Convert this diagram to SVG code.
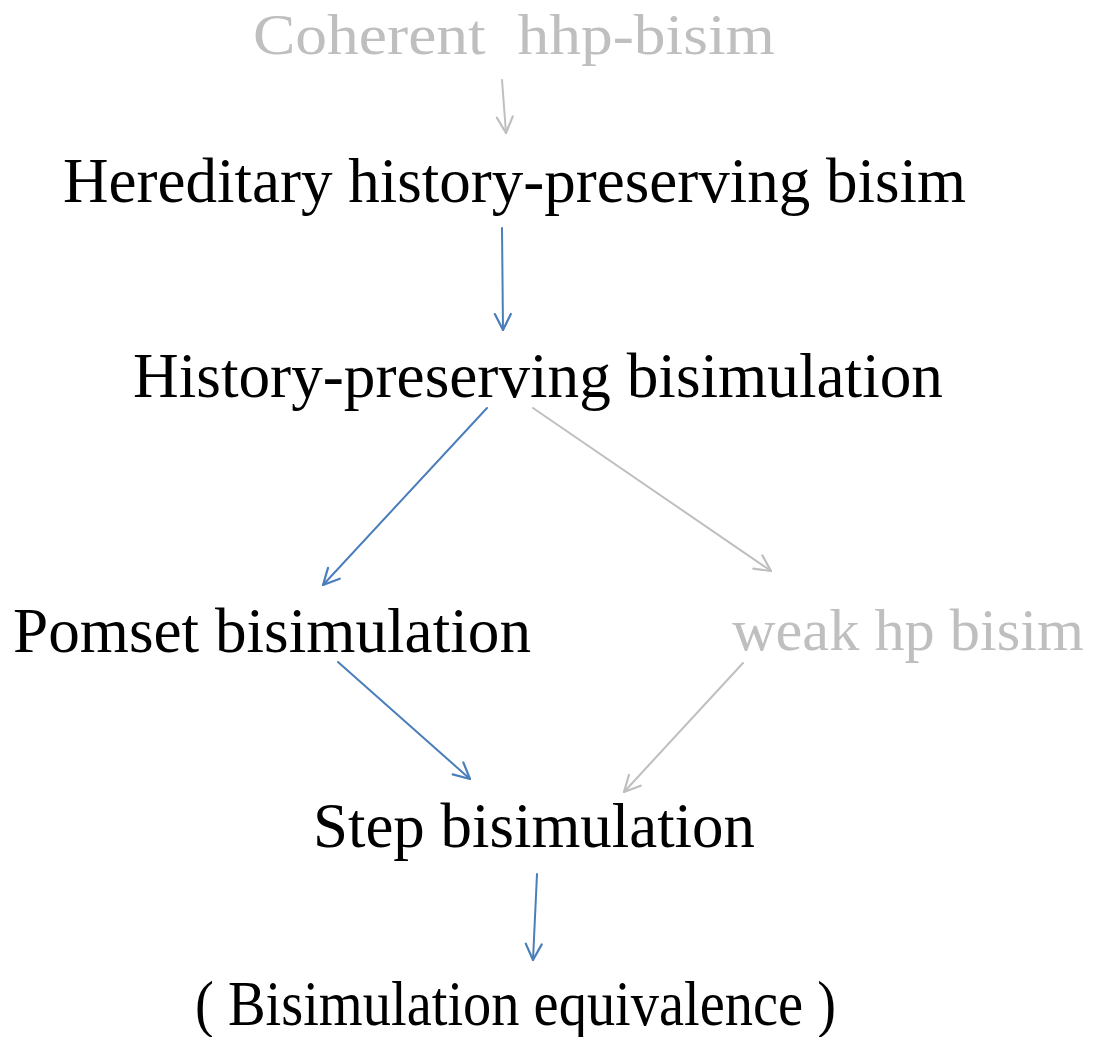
<svg xmlns="http://www.w3.org/2000/svg" width="1097" height="1037" viewBox="0 0 1097 1037">
<style>
text{font-family:"Liberation Serif","DejaVu Serif",serif;font-size:63px;fill:#000}
.g{fill:#bfbfbf}
.top{font-size:58px}
.w{font-size:60px}
.c{fill:none;stroke-width:2;stroke-linecap:round}
.b{stroke:#4a7ebb}
.gr{stroke:#bfbfbf}
</style>
<defs>
<marker id="ab" viewBox="0 0 20 20" refX="19" refY="10" markerWidth="20" markerHeight="20" markerUnits="userSpaceOnUse" orient="auto">
<path d="M3,2 L19,10 L3,18" fill="none" stroke="#4a7ebb" stroke-width="2.2" stroke-linecap="round" stroke-linejoin="round"/>
</marker>
<marker id="ag" viewBox="0 0 20 20" refX="19" refY="10" markerWidth="20" markerHeight="20" markerUnits="userSpaceOnUse" orient="auto">
<path d="M3,2 L19,10 L3,18" fill="none" stroke="#bfbfbf" stroke-width="2.2" stroke-linecap="round" stroke-linejoin="round"/>
</marker>
</defs>
<rect width="1097" height="1037" fill="#fff"/>
<g id="connectors">
<line class="c gr" x1="502" y1="80" x2="506" y2="133" marker-end="url(#ag)"/>
<line class="c b" x1="502" y1="228" x2="503" y2="330" marker-end="url(#ab)"/>
<line class="c b" x1="487" y1="408" x2="323" y2="585" marker-end="url(#ab)"/>
<line class="c gr" x1="533" y1="408" x2="771" y2="571" marker-end="url(#ag)"/>
<line class="c b" x1="338" y1="662" x2="470" y2="779" marker-end="url(#ab)"/>
<line class="c gr" x1="743" y1="663" x2="624" y2="792" marker-end="url(#ag)"/>
<line class="c b" x1="537" y1="874" x2="533" y2="960" marker-end="url(#ab)"/>
</g>
<g id="n-coherent"><text class="g top" x="253" y="54" textLength="522" lengthAdjust="spacingAndGlyphs" xml:space="preserve">Coherent  hhp-bisim</text></g>
<g id="n-hhp"><text x="63" y="202" textLength="903" lengthAdjust="spacingAndGlyphs">Hereditary history-preserving bisim</text></g>
<g id="n-hp"><text x="133" y="397" textLength="810" lengthAdjust="spacingAndGlyphs">History-preserving bisimulation</text></g>
<g id="n-pomset"><text x="13" y="652" textLength="518" lengthAdjust="spacingAndGlyphs">Pomset bisimulation</text></g>
<g id="n-weak"><text class="g w" x="732" y="650" textLength="352" lengthAdjust="spacingAndGlyphs">weak hp bisim</text></g>
<g id="n-step"><text x="313" y="847" textLength="442" lengthAdjust="spacingAndGlyphs">Step bisimulation</text></g>
<g id="n-bisim"><text x="195" y="1025" textLength="641" lengthAdjust="spacingAndGlyphs">( Bisimulation equivalence )</text></g>
</svg>
